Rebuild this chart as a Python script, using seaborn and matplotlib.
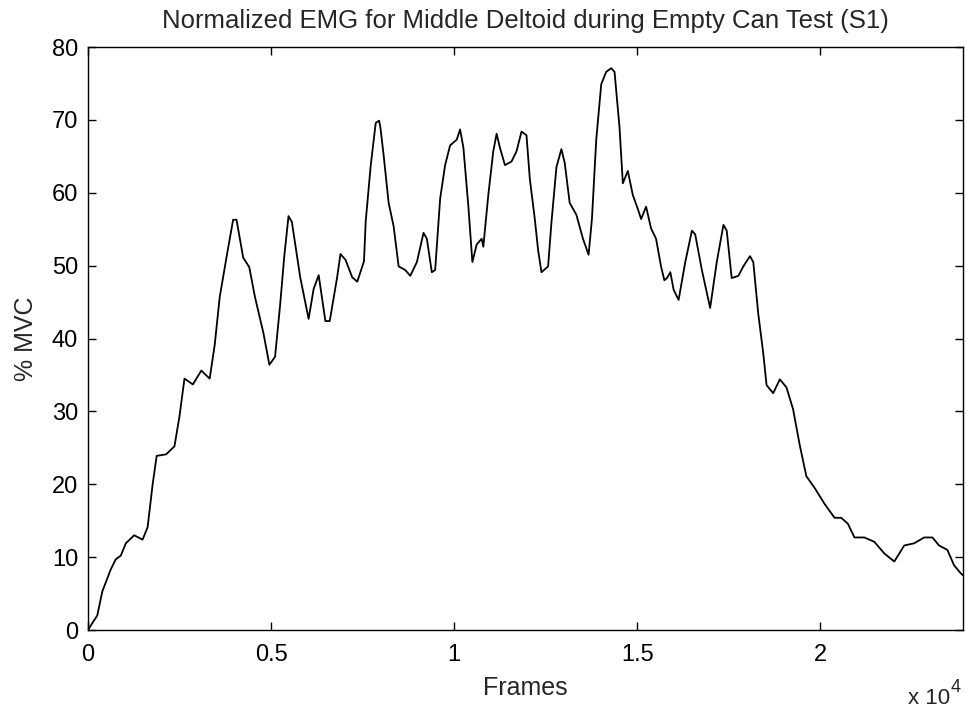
import matplotlib
matplotlib.use("Agg")
import matplotlib.pyplot as plt
import seaborn as sns
import pandas as pd

frames = [0, 256, 394, 623, 760, 898, 1035, 1264, 1493, 1630, 1768, 1878, 2134, 2363, 2500,
          2637, 2867, 3096, 3325, 3462, 3600, 3783, 3966, 4058, 4241, 4406, 4562, 4791, 4956,
          5111, 5249, 5359, 5478, 5570, 5798, 6027, 6164, 6302, 6485, 6604, 6806, 6897, 7035,
          7218, 7356, 7539, 7585, 7722, 7860, 7951, 7987, 8077, 8213, 8349, 8485, 8667, 8803,
          8984, 9165, 9256, 9392, 9483, 9619, 9755, 9891, 10073, 10163, 10254, 10390, 10499,
          10617, 10753, 10798, 10934, 11070, 11161, 11251, 11388, 11569, 11705, 11841, 11977,
          12068, 12204, 12295, 12386, 12567, 12658, 12794, 12930, 13021, 13157, 13338, 13519,
          13673, 13764, 13882, 14018, 14154, 14290, 14381, 14517, 14608, 14744, 14880, 15016,
          15107, 15243, 15379, 15515, 15651, 15742, 15814, 15905, 15995, 16131, 16313, 16494,
          16584, 16766, 16992, 17173, 17355, 17445, 17581, 17762, 17898, 18080, 18170, 18306,
          18442, 18533, 18714, 18895, 19076, 19257, 19438, 19620, 19846, 20118, 20390, 20571,
          20752, 20933, 21205, 21477, 21749, 22021, 22292, 22564, 22836, 23062, 23244, 23470,
          23651, 23832, 23900]
mvc = [0, 2.0, 5.3, 8.3, 9.7, 10.2, 11.9, 13.0, 12.4, 14.1, 20.0, 23.9, 24.1, 25.2, 29.3,
       34.5, 33.7, 35.6, 34.5, 39.1, 45.7, 51.1, 56.3, 56.3, 51.1, 49.8, 45.7, 40.8, 36.4,
       37.5, 44.6, 51.1, 56.8, 56.0, 48.4, 42.7, 46.8, 48.7, 42.4, 42.4, 48.4, 51.6, 50.8,
       48.4, 47.8, 50.6, 56.0, 63.7, 69.6, 69.9, 69.0, 65.1, 58.6, 55.4, 49.9, 49.4, 48.6,
       50.5, 54.5, 53.7, 49.1, 49.4, 59.2, 63.8, 66.5, 67.3, 68.7, 66.2, 58.1, 50.5,
       52.9, 53.7, 52.6, 59.7, 65.7, 68.1, 66.2, 63.8, 64.3, 65.7, 68.4, 67.9,
       61.9, 56.4, 52.1, 49.1, 49.9, 55.9, 63.5, 66.0, 64.1, 58.6, 57.0, 53.7,
       51.5, 56.4, 67.3, 74.9, 76.6, 77.1, 76.6, 69.0, 61.3, 63.0, 59.7, 57.8,
       56.4, 58.1, 55.1, 53.7, 49.9, 48.0, 48.3, 49.1, 46.7, 45.3, 50.5, 54.8,
       54.3, 49.4, 44.2, 50.5, 55.6, 54.8, 48.3, 48.6, 49.9, 51.3, 50.5, 43.4,
       38.0, 33.6, 32.5, 34.4, 33.3, 30.3, 25.4, 21.1, 19.5, 17.3, 15.4, 15.4,
       14.6, 12.7, 12.7, 12.1, 10.5, 9.4, 11.6, 11.9, 12.7, 12.7, 11.6, 11.0,
       8.9, 7.8, 7.5]

xticks = [0, 5000, 10000, 15000, 20000]
xtick_labels = ["0", "0.5", "1", "1.5", "2"]
yticks = [0, 10, 20, 30, 40, 50, 60, 70, 80]

sns.set_style("ticks")
plt.rcParams["font.family"] = ["Liberation Sans", "DejaVu Sans"]

fig = plt.figure(figsize=(9.66, 7.13), dpi=100)
ax = fig.add_axes([0.091, 0.1164, 0.906, 0.8176])

df = pd.DataFrame({"Frames": frames, "MVC": mvc})
sns.lineplot(data=df, x="Frames", y="MVC", color="black", linewidth=1.3, ax=ax)

ax.set_xlim(0, 23900)
ax.set_ylim(0, 80)
ax.set_xticks(xticks)
ax.set_xticklabels(xtick_labels)
ax.set_yticks(yticks)
ax.tick_params(direction="in", length=6, width=1, top=True, right=True,
               labelsize=17, colors="black")
ax.tick_params(axis="x", pad=10)
ax.tick_params(axis="y", pad=7)
for s in ax.spines.values():
    s.set_visible(True)
    s.set_linewidth(1)
    s.set_color("black")
ax.set_xlabel("Frames", fontsize=18, labelpad=7)
ax.set_ylabel("% MVC", fontsize=18, labelpad=10)
ax.set_title("Normalized EMG for Middle Deltoid during Empty Can Test (S1)",
             fontsize=18.5, pad=14)
fig.text(950 / 966, 9 / 713, "x 10", fontsize=16, ha="right", va="baseline")
fig.text(951 / 966, 21 / 713, "4", fontsize=13, ha="left", va="baseline")

fig.savefig("out.png", dpi=100)
